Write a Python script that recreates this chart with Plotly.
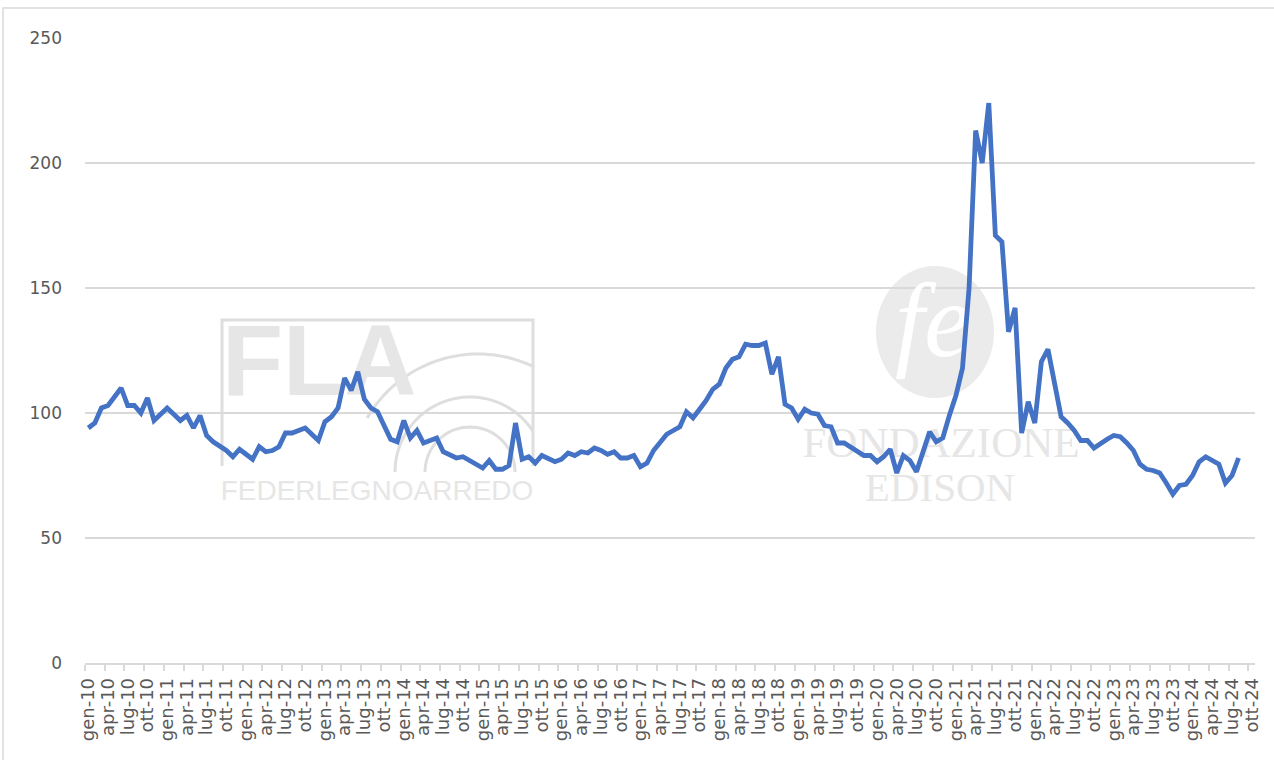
import math
import plotly.graph_objects as go

# ---- data -------------------------------------------------------------
month_abbr = ["gen", "feb", "mar", "apr", "mag", "giu",
              "lug", "ago", "set", "ott", "nov", "dic"]
years = list(range(10, 25))          # 2010 .. 2024
last_category = "ott-24"             # axis runs to ott-24

values = [
    94, 96, 102, 103, 106.5, 110, 103, 103, 100, 106, 97, 99.5,          # 2010
    102, 99.5, 97, 99, 94, 99, 91, 88.5, 87, 85, 82.5, 85.5,             # 2011
    83.5, 81.5, 86.5, 84.5, 85, 86.5, 92, 92, 93, 94, 91.5, 89,          # 2012
    96.5, 98.5, 102, 114, 109, 116.5, 105.5, 102, 100.5, 95, 89.5, 88.5, # 2013
    97, 90, 93, 88, 89, 90, 84.5, 83, 82, 82.5, 81, 79.5,                # 2014
    78, 81, 77.5, 77.5, 79, 96, 81.5, 82.5, 80, 83, 81.5, 80.5,          # 2015
    81.5, 84, 83, 84.5, 84, 86, 85, 83.5, 84.5, 82, 82, 83,              # 2016
    78.5, 80, 85, 88.5, 91.5, 93, 94.5, 100.5, 98, 101.5, 105, 109.5,    # 2017
    111.5, 118, 121.5, 122.5, 127.5, 127, 127, 128, 115.5, 122.5, 103.5, 102,  # 2018
    97.5, 101.5, 100, 99.5, 95, 94.5, 88, 88, 86.5, 85, 83, 83,          # 2019
    80.5, 82.5, 85.5, 76, 83, 81, 76.5, 84.5, 92.5, 88.5, 90, 99,        # 2020
    107, 118, 150, 213, 200, 224, 171, 168.5, 132.5, 142, 92, 104.5,     # 2021
    96, 120.5, 125.5, 112, 98.5, 96, 93, 89, 89, 86, 88, 89.5,           # 2022
    91, 90.5, 88, 85, 79.5, 77.5, 77, 76, 72, 67.5, 71, 71.5,            # 2023
    75, 80.5, 82.5, 81, 79.5, 72, 75, 82,                                # 2024 (gen-ago)
]

y_ticks = [0, 50, 100, 150, 200, 250]

# ---- categories -------------------------------------------------------
categories = []
for yy in years:
    for m in month_abbr:
        categories.append(f"{m}-{yy:02d}")
        if categories[-1] == last_category:
            break
n_cat = len(categories)
x_idx = list(range(len(values)))
tick_pos = list(range(0, n_cat, 3))
tick_txt = [categories[i] for i in tick_pos]

# pixel helpers for decorations (plot area 85..1255 x, 38..663 y)
L, R, T, B = 85, 1255, 38, 663
Y_MAX = 250
def px(p):
    return (p - L) / (R - L)
def py(p):
    return (B - p) / (B - T)
def dx(p):
    return (p - L) / ((R - L) / n_cat) - 0.5
def dy(p):
    return (B - p) / ((B - T) / Y_MAX)

WM = "#e6e6e6"
WM_LINE = "#dedede"

fig = go.Figure()

# ---- watermark texts (as traces, drawn beneath the data line) ----------
def wm_text(x, y, text, family, size, color, pos="middle center"):
    fig.add_trace(go.Scatter(
        x=[dx(x)], y=[dy(y)], mode="text", text=[text], textposition=pos,
        textfont=dict(family=family, size=size, color=color),
        hoverinfo="skip", showlegend=False, cliponaxis=False,
    ))

wm_text(222, 370, "<b>FLA</b>", "Liberation Sans", 100, WM, "middle right")
wm_text(377, 493, "FEDERLEGNOARREDO", "Liberation Sans", 28, WM)
wm_text(933, 330, "<i>fe</i>", "Liberation Serif", 105, "white")
wm_text(941, 446, "FONDAZIONE", "Liberation Serif", 43, WM)
wm_text(940, 491, "EDISON", "Liberation Serif", 41, WM)

# ---- data line ---------------------------------------------------------
fig.add_trace(go.Scatter(
    x=x_idx, y=values, mode="lines",
    line=dict(color="#4472C4", width=4.8),
    hoverinfo="skip", showlegend=False,
))

shapes = []
# FLA frame and arcs
shapes.append(dict(type="path", xref="paper", yref="paper", layer="below",
                   path=f"M {px(222)} {py(466)} L {px(222)} {py(320)} L {px(533)} {py(320)} L {px(533)} {py(466)}",
                   line=dict(color=WM_LINE, width=3), fillcolor="rgba(0,0,0,0)"))

def arc_path(cx, cy, r, a0, a1, n=40):
    pts = []
    for k in range(n + 1):
        a = math.radians(a0 + (a1 - a0) * k / n)
        pts.append((px(cx + r * math.cos(a)), py(cy - r * math.sin(a))))
    return "M " + " L ".join(f"{x} {y}" for x, y in pts)

for (cx, cy, r, a0, a1) in [(470, 472, 45, 0, 180), (470, 472, 75, 33, 180), (478, 482, 128, 64, 150)]:
    shapes.append(dict(type="path", xref="paper", yref="paper", layer="below",
                       path=arc_path(cx, cy, r, a0, a1),
                       line=dict(color=WM_LINE, width=3)))

# Fondazione Edison disc
shapes.append(dict(type="circle", xref="paper", yref="paper", layer="below",
                   x0=px(876), x1=px(994), y0=py(398), y1=py(266),
                   line=dict(width=0), fillcolor="#ebebeb"))

# chart area border
shapes.append(dict(type="rect", xref="paper", yref="paper", layer="below",
                   x0=px(3), x1=px(1290), y0=py(8), y1=py(790),
                   line=dict(color="#d9d9d9", width=1.5), fillcolor="rgba(0,0,0,0)"))

fig.update_layout(
    width=1274, height=760,
    margin=dict(l=L, r=1274 - R, t=T, b=760 - B, autoexpand=False),
    paper_bgcolor="white", plot_bgcolor="white",
    shapes=shapes,
    showlegend=False,
)
fig.update_xaxes(
    range=[-0.5, n_cat - 0.5],
    tickmode="array", tickvals=tick_pos, ticktext=tick_txt,
    tickangle=-90, ticks="", ticklen=0,
    tickfont=dict(family="DejaVu Sans", size=18, color="#595959"),
    showline=True, linecolor="#d9d9d9", linewidth=1.5,
    showgrid=False, zeroline=False,
    minor=dict(tickmode="linear", tick0=-0.5, dtick=3, ticks="outside",
               ticklen=6, tickcolor="#d9d9d9", tickwidth=1.5, showgrid=False),
    ticklabelstandoff=6,
)
fig.update_yaxes(
    range=[0, Y_MAX], tickmode="array", tickvals=y_ticks,
    ticks="", showline=False, zeroline=False,
    showgrid=True, gridcolor="#d9d9d9", gridwidth=1.5,
    tickfont=dict(family="DejaVu Sans", size=17, color="#595959"),
    ticklabelstandoff=22,
)

fig.write_html(
    "out.html",
    config={"displayModeBar": False},
    post_script="document.body.style.margin='0';document.body.style.overflow='hidden';",
)
